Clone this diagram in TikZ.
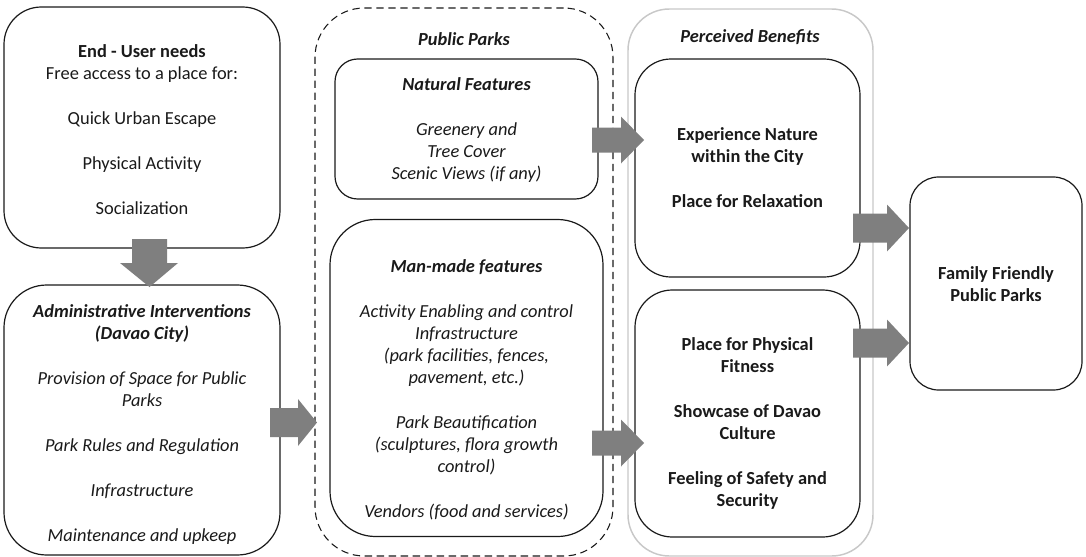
\documentclass[tikz,border=0pt]{standalone}
\usepackage{fontspec}
\setmainfont{Carlito}
\definecolor{arrowgray}{HTML}{7F7F7F}
\definecolor{lightframe}{HTML}{C8C8C8}
\definecolor{inkblack}{HTML}{1A1A1A}
% #1 start x, #2 head base x, #3 tip x, #4 centre y, #5 shaft half width
\newcommand{\harrow}[5]{\fill[arrowgray] (#1,#4-#5) -- (#2,#4-#5) -- (#2,#4-23.5) -- (#3,#4) -- (#2,#4+23.5) -- (#2,#4+#5) -- (#1,#4+#5) -- cycle;}
\begin{document}
\begin{tikzpicture}[x=0.75pt,y=-0.75pt,
  box/.style={draw=inkblack, line width=0.9pt, fill=white, inner sep=0pt},
  dbox/.style={draw=inkblack, line width=0.8pt, dash pattern=on 5.5pt off 3.5pt, inner sep=0pt},
  gbox/.style={draw=lightframe, line width=1.1pt, inner sep=0pt},
  txt/.style={align=center, inner sep=0pt, text=inkblack, font=\fontsize{13.8}{16.5}\selectfont}]
\useasboundingbox (0,0) rectangle (1086,557);
% frames
\node[dbox, rounded corners=37pt, minimum width=223.5pt, minimum height=411pt] (parks) at (464,282) {};
\node[gbox, rounded corners=31pt, minimum width=183.75pt, minimum height=410.25pt] (benefits) at (750.5,282.5) {};
% boxes
\node[box, rounded corners=28pt, minimum width=207pt, minimum height=180.75pt] (needs) at (142,127.5) {};
\node[box, rounded corners=32pt, minimum width=207pt, minimum height=202.5pt] (admin) at (142,420) {};
\node[box, rounded corners=17pt, minimum width=197.25pt, minimum height=105pt] (natural) at (466.5,129) {};
\node[box, rounded corners=34pt, minimum width=204.75pt, minimum height=237.75pt] (manmade) at (466.5,378) {};
\node[box, rounded corners=27pt, minimum width=168.75pt, minimum height=163.5pt] (nature) at (747.5,168) {};
\node[box, rounded corners=28pt, minimum width=168.75pt, minimum height=185.25pt] (fitness) at (747.5,413.5) {};
\node[box, rounded corners=21.5pt, minimum width=129pt, minimum height=159.75pt] (family) at (996,283.5) {};
% texts
\node[txt] (needst) at (142,130) {\textbf{End - User needs}\\Free access to a place for:\\[17.25pt]Quick Urban Escape\\[17.25pt]Physical Activity\\[17.25pt]Socialization};
\node[txt, font=\fontsize{13.8}{16.5}\selectfont\itshape] (admint) at (142,425) {\textbf{Administrative Interventions}\\\textbf{(Davao City)}\\[17.25pt]Provision of Space for Public\\Parks\\[17.25pt]Park Rules and Regulation\\[17.25pt]Infrastructure\\[17.25pt]Maintenance and upkeep};
\node[txt, font=\fontsize{13.8}{16.5}\selectfont\bfseries\itshape] (parkst) at (464,39) {Public Parks};
\node[txt, font=\fontsize{13.8}{16.5}\selectfont\itshape] (naturalt) at (466.5,130) {\textbf{Natural Features}\\[17.25pt]Greenery and\\Tree Cover\\Scenic Views (if any)};
\node[txt, font=\fontsize{13.8}{16.5}\selectfont\itshape] (manmadet) at (466.5,390) {\textbf{Man-made features}\\[17.25pt]Activity Enabling and control\\Infrastructure\\(park facilities, fences,\\pavement, etc.)\\[17.25pt]Park Beautification\\(sculptures, flora growth\\control)\\[17.25pt]Vendors (food and services)};
\node[txt, font=\fontsize{13.8}{16.5}\selectfont\bfseries\itshape] (benefitst) at (750,37) {Perceived Benefits};
\node[txt, font=\fontsize{13.8}{16.5}\selectfont\bfseries] (naturet) at (747.5,168) {Experience Nature\\within the City\\[17.25pt]Place for Relaxation};
\node[txt, font=\fontsize{13.8}{16.5}\selectfont\bfseries] (fitnesst) at (747.5,423) {Place for Physical\\Fitness\\[17.25pt]Showcase of Davao\\Culture\\[17.25pt]Feeling of Safety and\\Security};
\node[txt, font=\fontsize{13.8}{16.5}\selectfont\bfseries] (familyt) at (996,284) {Family Friendly\\Public Parks};
% block arrows
\fill[arrowgray] (132,239) -- (167,239) -- (167,263) -- (178,263) -- (149.5,287) -- (120,263) -- (132,263) -- cycle;
\harrow{270}{298}{317}{422.5}{14.5}
\harrow{592}{621}{644}{140}{12.5}
\harrow{592}{621}{644}{443}{12.5}
\harrow{853}{887}{909}{228}{14.5}
\harrow{853}{887}{909}{343}{14.5}
\end{tikzpicture}
\end{document}
